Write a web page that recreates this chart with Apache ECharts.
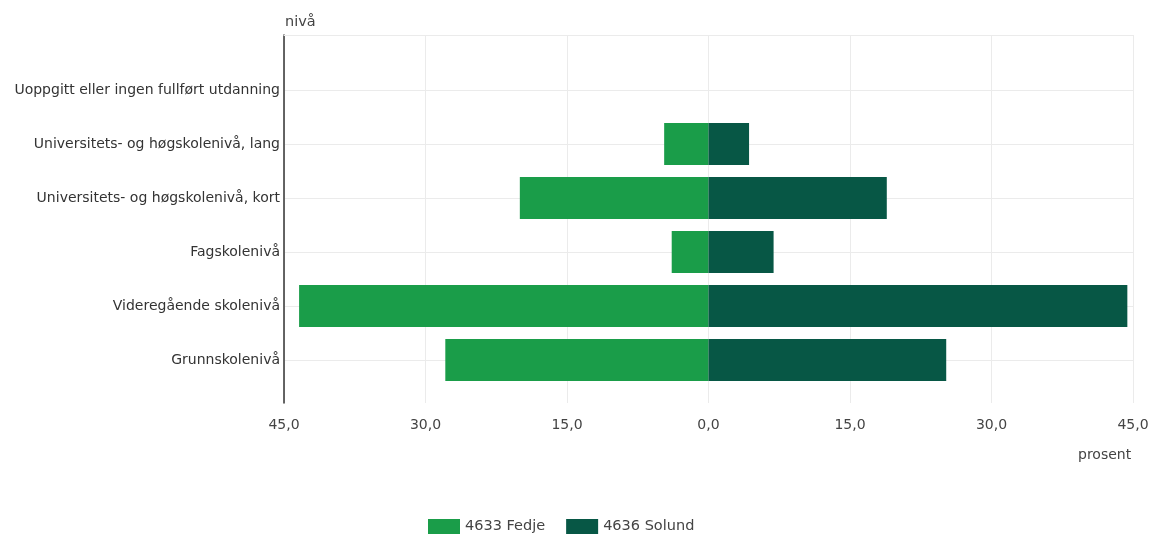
<!DOCTYPE html>
<html>
<head>
<meta charset="utf-8">
<script src="https://cdn.jsdelivr.net/npm/echarts@6/dist/echarts.min.js"></script>
<style>html,body{margin:0;padding:0;background:#fff}#c{width:1157px;height:536px}</style>
</head>
<body>
<div id="c"></div>
<script>
const categories = [
  'Uoppgitt eller ingen fullført utdanning',
  'Universitets- og høgskolenivå, lang',
  'Universitets- og høgskolenivå, kort',
  'Fagskolenivå',
  'Videregående skolenivå',
  'Grunnskolenivå'
];
const fedje = [0, 4.7, 20.0, 3.9, 43.4, 27.9];
const solund = [0, 4.3, 18.9, 6.9, 44.4, 25.2];
const seriesNames = ['4633 Fedje', '4636 Solund'];
const xTicks = [-45, -30, -15, 0, 15, 30, 45];

const FONT = '"DejaVu Sans", Verdana, sans-serif';
const fmt = v => Math.abs(v).toFixed(1).replace('.', ',');

const chart = echarts.init(document.getElementById('c'));
chart.setOption({
  animation: false,
  textStyle: { fontFamily: FONT },
  title: {
    text: 'prosent', left: 1073, top: 443,
    textStyle: { fontSize: 14, fontWeight: 'normal', color: '#444', fontFamily: FONT }
  },
  legend: {
    bottom: -3, left: 423, itemWidth: 32, itemHeight: 15, itemGap: 21,
    icon: 'rect',
    textStyle: { fontSize: 14.5, color: '#444', fontFamily: FONT },
    data: seriesNames
  },
  grid: [
    { left: 284, right: 24, top: 35, bottom: 133 },
    { left: 284, right: 24, top: 90, height: 270 }
  ],
  xAxis: [
    {
      gridIndex: 0, type: 'value', min: xTicks[0], max: xTicks[xTicks.length - 1], interval: 15,
      axisLine: { show: false }, axisTick: { show: false },
      axisLabel: { formatter: fmt, fontSize: 14, color: '#444', margin: 15 },
      splitLine: { show: true, lineStyle: { color: '#ebebeb' } }
    },
    {
      gridIndex: 0, type: 'value', position: 'top', min: -45, max: 45,
      axisLine: { show: true, onZero: false, lineStyle: { color: '#ebebeb' } },
      axisTick: { show: false }, axisLabel: { show: false }, splitLine: { show: false }
    },
    {
      gridIndex: 1, type: 'value', min: -45, max: 45, show: false
    }
  ],
  yAxis: [
    {
      gridIndex: 0, type: 'value', min: 0, max: 1,
      name: 'nivå', nameLocation: 'end', nameGap: 5,
      nameTextStyle: { align: 'left', fontSize: 14.5, color: '#444', padding: [0, 0, 0, 1] },
      axisLine: { show: true, onZero: false, lineStyle: { color: '#333', width: 1.5 } },
      axisTick: { show: false }, axisLabel: { show: false }, splitLine: { show: false }
    },
    {
      gridIndex: 1, type: 'category', data: categories, boundaryGap: false, inverse: true,
      axisLine: { show: false, onZero: false }, axisTick: { show: false },
      axisLabel: { fontSize: 14, color: '#333', margin: 4 },
      splitLine: { show: true, lineStyle: { color: '#ebebeb' } }
    }
  ],
  series: [
    {
      name: seriesNames[0], type: 'bar', xAxisIndex: 2, yAxisIndex: 1, stack: 'a',
      barWidth: 42, itemStyle: { color: '#1a9d49' },
      data: fedje.map(v => -v)
    },
    {
      name: seriesNames[1], type: 'bar', xAxisIndex: 2, yAxisIndex: 1, stack: 'a',
      barWidth: 42, itemStyle: { color: '#075745' },
      data: solund
    }
  ]
});
</script>
</body>
</html>
